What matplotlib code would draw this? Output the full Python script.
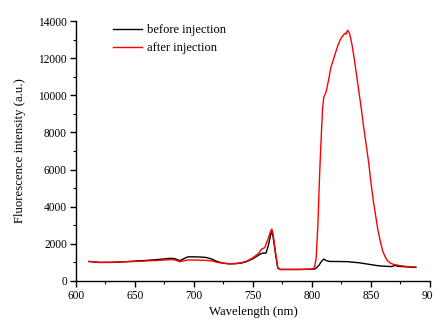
import matplotlib
matplotlib.use("Agg")
import matplotlib.pyplot as plt
from matplotlib.ticker import MultipleLocator

plt.rcParams['font.family'] = ['Liberation Serif', 'DejaVu Serif']

# Wavelength (nm) and intensities (a.u.)
wl_before = [611, 620, 630, 640, 650, 660, 670, 680, 684, 688, 692, 695, 700, 705, 710,
             715, 720, 725, 730, 735, 740, 745, 750, 755, 758, 761, 763, 765, 766, 767,
             769, 771, 773, 780, 790, 800, 803, 806, 808, 810, 812, 815, 820, 830, 840,
             845, 850, 855, 860, 865, 868, 870, 872, 875, 880, 888]
before = [1050, 1000, 1000, 1030, 1070, 1110, 1160, 1220, 1200, 1090, 1220, 1300, 1300, 1290, 1270,
          1180, 1040, 960, 920, 930, 960, 1050, 1200, 1400, 1500, 1500, 1900, 2500, 2650, 2400,
          1500, 700, 620, 620, 620, 630, 660, 850, 1050, 1180, 1100, 1050, 1050, 1040, 980,
          930, 880, 830, 800, 780, 780, 840, 800, 780, 760, 730]

wl_after = [611, 620, 630, 640, 650, 660, 670, 680, 684, 688, 692, 695, 700, 705, 710,
            715, 720, 725, 730, 735, 740, 745, 750, 755, 757, 760, 763, 765, 766, 767,
            769, 771, 773, 780, 790, 800, 802, 803.5, 805, 806.5, 808, 809, 810, 812, 814,
            816, 818, 820, 822, 824, 826, 828, 829, 830, 831, 832, 834, 836, 838, 840,
            842, 844, 846, 848, 850, 852, 854, 856, 858, 860, 862, 864, 866, 868, 870,
            872, 875, 880, 888]
after = [1050, 1000, 1010, 1030, 1050, 1080, 1110, 1150, 1130, 1040, 1100, 1130, 1130, 1120, 1110,
         1080, 1000, 950, 930, 940, 980, 1080, 1250, 1500, 1700, 1800, 2300, 2700, 2800, 2550,
         1600, 720, 620, 620, 620, 640, 700, 1200, 3000, 5800, 8000, 9300, 9900, 10200, 10800,
         11500, 11900, 12300, 12700, 13000, 13200, 13350, 13300, 13500, 13450, 13300, 12700, 11900, 11000, 10100,
         9200, 8200, 7300, 6400, 5300, 4300, 3500, 2700, 2100, 1600, 1300, 1100, 980, 920, 880,
         860, 820, 780, 750]

fig = plt.figure(figsize=(4.33, 3.2), dpi=100)
ax = fig.add_axes([0.1755, 0.122, 0.8175, 0.812])

ax.plot(wl_before, before, color='black', lw=1.0, label='before injection')
ax.plot(wl_after, after, color='red', lw=1.0, label='after injection')

ax.set_xlim(600, 900)
ax.set_ylim(0, 14000)
ax.xaxis.set_major_locator(MultipleLocator(50))
ax.xaxis.set_minor_locator(MultipleLocator(25))
ax.yaxis.set_major_locator(MultipleLocator(2000))
ax.yaxis.set_minor_locator(MultipleLocator(1000))

for s in ['top', 'right']:
    ax.spines[s].set_visible(False)
for s in ['left', 'bottom']:
    ax.spines[s].set_linewidth(1.0)

ax.tick_params(which='major', direction='out', length=4, width=1.0, labelsize=8.3, pad=2.5)
ax.tick_params(which='minor', direction='out', length=2.5, width=0.8)

ax.set_xlabel('Wavelength (nm)', fontsize=9.2, labelpad=3)
ax.set_ylabel('Fluorescence intensity (a.u.)', fontsize=9.2, labelpad=9)

ax.legend(loc='center left', bbox_to_anchor=(0.105, 0.93), frameon=False, fontsize=9,
          handlelength=2.3, handletextpad=0.4, labelspacing=0.45, borderaxespad=0,
          borderpad=0)

fig.savefig('out.png', dpi=100)
